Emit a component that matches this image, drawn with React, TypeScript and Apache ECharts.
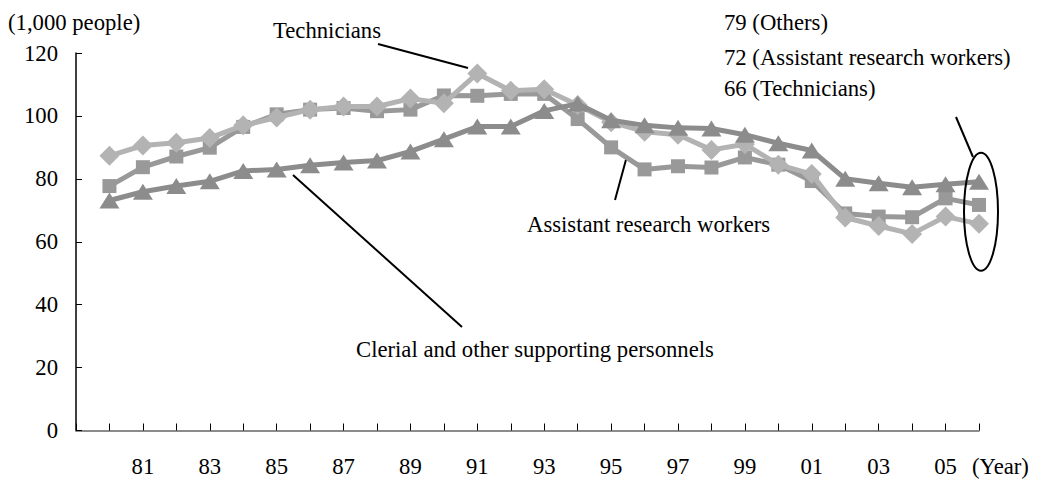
import React, { useEffect, useRef } from "react";
import * as echarts from "echarts";

const years = [1980,1981,1982,1983,1984,1985,1986,1987,1988,1989,1990,1991,1992,1993,1994,1995,1996,1997,1998,1999,2000,2001,2002,2003,2004,2005,2006];
const technicians = [87.3,90.6,91.5,93,97,99.5,102,103,103,105.5,104,113.5,108,108.5,103.5,98,95,94,89.2,91,84.5,81.5,67.7,65,62.5,68,65.7];
const assistants = [77.7,83.7,87.1,89.9,96.5,100.5,102,102.5,101.5,102,106.5,106.4,107,107,99,90,83,84,83.6,86.8,84.5,79.3,69,68,67.8,73.8,71.7];
const others = [73.1,75.9,77.7,79.2,82.5,83,84.3,85.2,85.8,88.7,92.6,96.6,96.6,101.6,103.9,98.6,97,96.2,96,94,91.3,89,80,78.6,77.3,78.3,79.1];
const yTicks = [0, 20, 40, 60, 80, 100, 120];
const labelYears = [1981,1983,1985,1987,1989,1991,1993,1995,1997,1999,2001,2003,2005];

const FONT = "'Liberation Serif', 'Times New Roman', serif";
const FS = 22.7;

export default function App() {
  const ref = useRef<HTMLDivElement>(null);
  useEffect(() => {
    if (!ref.current) return;
    const chart = echarts.init(ref.current, null, { renderer: "svg" });
    const pairs = (arr: number[]) => years.map((y, i) => [y, arr[i]]);
    const txt = (text: string, x: number, y: number) => ({
      type: "text",
      x,
      y,
      style: { text, fill: "#000", font: `${FS}px ${FONT}`, textAlign: "left", textVerticalAlign: "middle" },
    });
    const ln = (x1: number, y1: number, x2: number, y2: number) => ({
      type: "line",
      shape: { x1, y1, x2, y2 },
      style: { stroke: "#000", lineWidth: 2 },
    });
    chart.setOption({
      animation: false,
      backgroundColor: "#fff",
      textStyle: { fontFamily: FONT },
      grid: { left: 76, right: 59, top: 53, bottom: 48.5, containLabel: false },
      xAxis: {
        type: "value",
        min: 1979,
        max: 2006,
        interval: 1,
        splitLine: { show: false },
        axisLine: { lineStyle: { color: "#666", width: 1.5 } },
        axisTick: { inside: true, length: 7, lineStyle: { color: "#000", width: 1 } },
        axisLabel: {
          margin: 24,
          color: "#000",
          fontSize: FS,
          fontFamily: FONT,
          formatter: (v: number) => (labelYears.indexOf(v) >= 0 ? String(v % 100).padStart(2, "0") : ""),
        },
      },
      yAxis: {
        type: "value",
        min: yTicks[0],
        max: yTicks[yTicks.length - 1],
        interval: 20,
        splitLine: { show: false },
        axisLine: { show: true, lineStyle: { color: "#000", width: 1.5 } },
        axisTick: { show: true, inside: true, length: 6, lineStyle: { color: "#000" } },
        axisLabel: { margin: 18, color: "#000", fontSize: FS, fontFamily: FONT },
      },
      series: [
        {
          name: "Assistant research workers",
          type: "line",
          data: pairs(assistants),
          symbol: "rect",
          symbolSize: 14,
          lineStyle: { color: "#999999", width: 5 },
          itemStyle: { color: "#999999" },
          z: 2,
        },
        {
          name: "Technicians",
          type: "line",
          data: pairs(technicians),
          symbol: "diamond",
          symbolSize: 20,
          lineStyle: { color: "#b3b3b3", width: 5 },
          itemStyle: { color: "#b3b3b3" },
          z: 3,
        },
        {
          name: "Clerial and other supporting personnels",
          type: "line",
          data: pairs(others),
          symbol: "triangle",
          symbolSize: [20, 16],
          lineStyle: { color: "#8c8c8c", width: 5 },
          itemStyle: { color: "#8c8c8c" },
          z: 4,
        },
      ],
      graphic: [
        txt("(1,000 people)", 8, 22),
        txt("Technicians", 273, 30),
        txt("79 (Others)", 724, 22),
        txt("72 (Assistant research workers)", 724, 57),
        txt("66 (Technicians)", 724, 88),
        txt("Assistant research workers", 527, 224),
        txt("Clerial and other supporting personnels", 356, 349),
        txt("(Year)", 972, 466),
        ln(378, 44, 468, 68),
        ln(627, 156, 615, 200),
        ln(293, 175, 462, 327),
        ln(956, 117, 973, 157),
        {
          type: "ellipse",
          shape: { cx: 981, cy: 211.7, rx: 17, ry: 59 },
          style: { fill: "none", stroke: "#000", lineWidth: 2 },
          z: 10,
        },
      ],
    });
    return () => chart.dispose();
  }, []);
  return <div ref={ref} style={{ position: "fixed", left: 0, top: 0, width: 1038, height: 479 }} />;
}
